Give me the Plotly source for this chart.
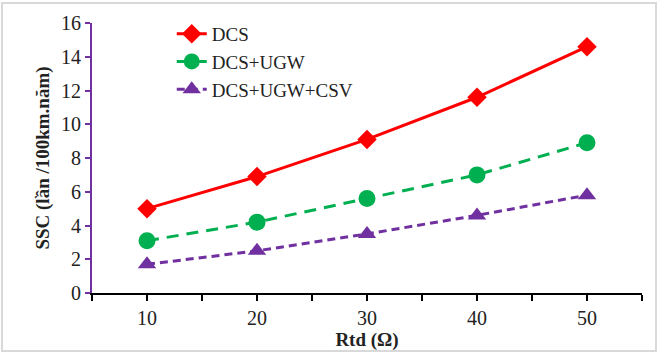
import plotly.graph_objects as go

x_vals = [10, 20, 30, 40, 50]
dcs = [5.0, 6.9, 9.1, 11.6, 14.6]
dcs_ugw = [3.1, 4.2, 5.6, 7.0, 8.9]
dcs_ugw_csv = [1.7, 2.5, 3.5, 4.6, 5.8]
x_ticks = [5, 10, 15, 20, 25, 30, 35, 40, 45, 50, 55]
x_ticktext = ["", "10", "", "20", "", "30", "", "40", "", "50", ""]
y_ticks = [0, 2, 4, 6, 8, 10, 12, 14, 16]

font = "Liberation Serif"

fig = go.Figure()
fig.add_trace(go.Scatter(x=x_vals, y=dcs, name="DCS", mode="lines+markers",
                         line=dict(color="#ff0000", width=3),
                         marker=dict(symbol="diamond", size=15, color="#ff0000")))
fig.add_trace(go.Scatter(x=x_vals, y=dcs_ugw, name="DCS+UGW", mode="lines+markers",
                         line=dict(color="#00b050", width=3, dash="12px,8px"),
                         marker=dict(symbol="circle", size=17, color="#00b050")))
fig.add_trace(go.Scatter(x=x_vals, y=dcs_ugw_csv, name="DCS+UGW+CSV", mode="lines+markers",
                         line=dict(color="#7030a0", width=3, dash="8px,5px"),
                         marker=dict(symbol="triangle-up", size=16, color="#7030a0")))

W, H = 658, 354
ml, mr, mt, mb = 92, 16, 23, 61
pw, ph = W - ml - mr, H - mt - mb

def px_x(p):
    return (p - ml) / pw

def px_y(p):
    return (H - mb - p) / ph

fig.update_layout(
    width=W, height=H,
    margin=dict(l=ml, r=mr, t=mt, b=mb),
    paper_bgcolor="white", plot_bgcolor="white",
    font=dict(family=font, color="#222222"),
    showlegend=True,
    legend=dict(x=0.145, y=1.03, xanchor="left", yanchor="top",
                font=dict(size=19, family=font, color="#222222"),
                bgcolor="rgba(0,0,0,0)", tracegroupgap=0),
    xaxis=dict(range=[5, 55], tickvals=x_ticks, ticktext=x_ticktext,
               showgrid=False, zeroline=False, showline=True,
               linecolor="black", linewidth=2, ticks="outside",
               tickcolor="black", ticklen=6, tickwidth=2,
               tickfont=dict(size=20, family=font, color="#222222"),
               title=dict(text="<b>Rtd (Ω)</b>", standoff=0,
                          font=dict(size=19, family=font, color="#222222"))),
    yaxis=dict(range=[0, 16], tickvals=y_ticks, showgrid=False, zeroline=False,
               showline=True, linecolor="#7030a0", linewidth=2,
               ticks="outside", tickcolor="#7030a0", ticklen=5, tickwidth=2,
               tickfont=dict(size=20, family=font, color="#222222"),
               title=dict(text="<b>SSC (lần /100km.năm)</b>", standoff=6,
                          font=dict(size=19, family=font, color="#222222"))),
    shapes=[dict(type="rect", xref="paper", yref="paper",
                 x0=px_x(2), x1=px_x(656), y0=px_y(351), y1=px_y(3),
                 line=dict(color="#d9d9d9", width=2), layer="below")],
)

fig.write_html("out.html")
